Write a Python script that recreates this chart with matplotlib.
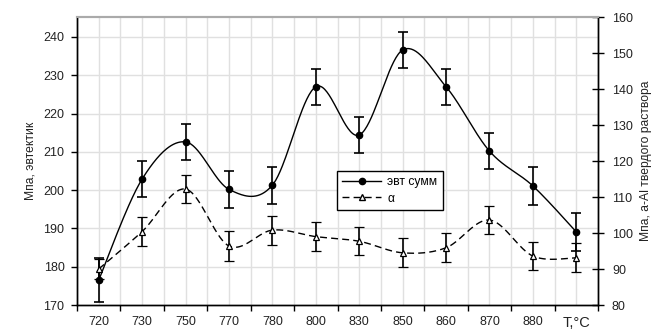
import numpy as np
import matplotlib
matplotlib.use("Agg")
import matplotlib.pyplot as plt
from matplotlib.lines import Line2D

plt.rcParams['font.family'] = ['Liberation Sans', 'DejaVu Sans']

categories = ["720", "730", "750", "770", "780", "800", "830", "850", "860", "870", "880", "T,°C"]
evt_summ = [176.5, 202.9, 212.6, 200.2, 201.3, 227.0, 214.4, 236.6, 227.0, 210.2, 201.1, 189.1]
evt_err = [5.8, 4.8, 4.8, 4.9, 4.8, 4.7, 4.8, 4.7, 4.7, 4.8, 4.9, 4.9]
alpha_vals = [90.0, 100.4, 112.2, 96.4, 100.8, 99.0, 97.7, 94.5, 95.9, 103.6, 93.6, 93.1]
alpha_err = [2.8, 4.0, 4.0, 4.1, 4.0, 4.0, 3.9, 4.0, 4.0, 4.0, 3.9, 4.0]


def smooth(xs, ys, n=40):
    xs = np.asarray(xs, float)
    ys = np.asarray(ys, float)
    P = np.column_stack([xs, ys])
    out = []
    m = len(P)
    for i in range(m - 1):
        p0 = P[max(i - 1, 0)]
        p1 = P[i]
        p2 = P[i + 1]
        p3 = P[min(i + 2, m - 1)]
        c1 = p1 + (p2 - p0) / 6.0
        c2 = p2 - (p3 - p1) / 6.0
        t = np.linspace(0, 1, n)[:, None]
        seg = ((1 - t) ** 3) * p1 + 3 * ((1 - t) ** 2) * t * c1 + 3 * (1 - t) * t ** 2 * c2 + t ** 3 * p2
        out.append(seg if i == 0 else seg[1:])
    arr = np.vstack(out)
    return arr[:, 0], arr[:, 1]


W, H = 653, 330
fig = plt.figure(figsize=(W / 100, H / 100), dpi=100)
ax = fig.add_axes([77 / W, (H - 305) / H, (598 - 77) / W, (305 - 17) / H])
ax2 = ax.twinx()

x = np.arange(len(categories))

# grid
ax.set_xlim(-0.5, len(categories) - 0.5)
ax.set_ylim(170, 170 + 288 / 3.829)
ax2.set_ylim(80, 160)
ax.set_yticks(np.arange(170, 241, 10))
ax2.set_yticks(np.arange(80, 161, 10))
for v in np.arange(-0.5, len(categories) - 0.4, 0.5):
    ax.axvline(v, color='#e0e0e0', lw=1.0, zorder=0)
for v in np.arange(180, 241, 10):
    ax.axhline(v, color='#e0e0e0', lw=1.0, zorder=0)

# series 1 (left axis)
sx, sy = smooth(x, evt_summ)
ax.plot(sx, sy, color='black', lw=1.0, zorder=3)
ax.errorbar(x, evt_summ, yerr=evt_err, fmt='o', color='black', ms=4.5,
            ecolor='black', elinewidth=1.2, capsize=3.5, capthick=1.2, zorder=4)

# series 2 (right axis)
sx2, sy2 = smooth(x, alpha_vals)
ax2.plot(sx2, sy2, color='black', lw=1.0, ls=(0, (5, 3)), zorder=3)
ax2.errorbar(x, alpha_vals, yerr=alpha_err, fmt='^', color='black', ms=5,
             mfc='white', mec='black', mew=0.9,
             ecolor='black', elinewidth=1.2, capsize=3.5, capthick=1.2, zorder=4)

# x ticks: major at boundaries, labels at centers
ax.set_xticks(np.arange(-0.5, len(categories), 1.0))
ax.set_xticklabels([])
ax.set_xticks(x, minor=True)
ax.set_xticklabels(categories, minor=True)
ax.tick_params(axis='x', which='major', direction='out', length=4, width=1, color='black')
ax.tick_params(axis='x', which='minor', length=0, pad=8, labelsize=9, labelcolor='#222222')
for lbl in ax.get_xticklabels(minor=True):
    if lbl.get_text() == "T,°C":
        lbl.set_fontsize(10.5)

ax.tick_params(axis='y', direction='out', length=4, width=1, pad=5, labelsize=9, labelcolor='#222222')
ax2.tick_params(axis='y', direction='inout', length=8, width=1, pad=6, labelsize=9, labelcolor='#222222')

ax.set_ylabel("Мпа, эвтектик", fontsize=8.7, labelpad=5, color='#222222')
ax2.set_ylabel("Мпа, а-Al твердого раствора", fontsize=8.7, labelpad=5, color='#222222')

for a in (ax, ax2):
    a.spines['top'].set_color('#aaaaaa')
    a.spines['top'].set_linewidth(1.5)
    a.spines['left'].set_color('black')
    a.spines['bottom'].set_color('black')
    a.spines['right'].set_color('black')
    a.spines['left'].set_linewidth(1.0)
    a.spines['right'].set_linewidth(1.0)
    a.spines['bottom'].set_linewidth(1.0)

handles = [
    Line2D([0], [0], color='black', lw=1.0, marker='o', ms=4.5),
    Line2D([0], [0], color='black', lw=1.0, ls=(0, (5, 3)), marker='^', ms=5, mfc='white', mec='black'),
]
leg = ax2.legend(handles, ["эвт сумм", "α"], loc='upper left',
                 bbox_to_anchor=(337 / W, (H - 171) / H), bbox_transform=fig.transFigure,
                 frameon=True, fancybox=False, edgecolor='black', framealpha=1,
                 fontsize=8.7, handlelength=3.2, borderaxespad=0, borderpad=0.45,
                 labelspacing=0.35, handletextpad=0.5)
leg.get_frame().set_linewidth(1.0)
leg.set_zorder(10)

fig.savefig("out.png", dpi=100)
